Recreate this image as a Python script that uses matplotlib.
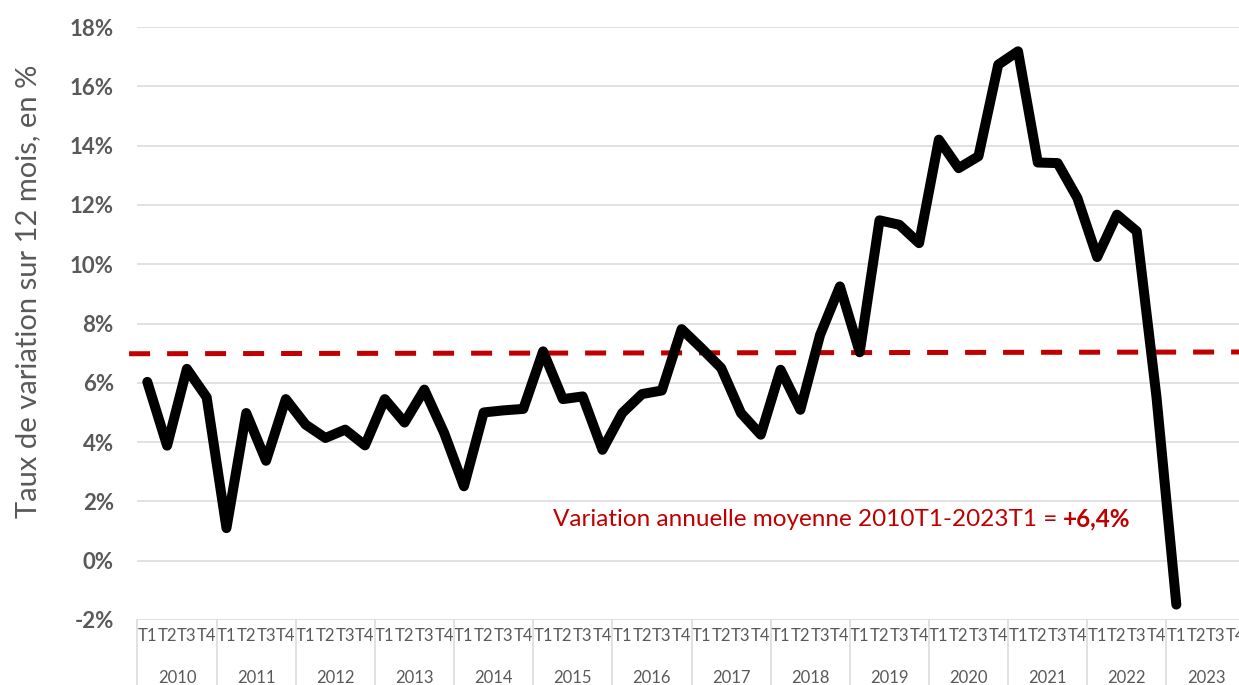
import matplotlib
matplotlib.use('Agg')
import matplotlib.pyplot as plt
import matplotlib.transforms as mtransforms

plt.rcParams['font.family'] = ['Lato', 'DejaVu Sans']

# Données (taux de variation sur 12 mois, en %)
annees = list(range(2010, 2024))
trimestres = ['T1', 'T2', 'T3', 'T4']
variation = [
    6.03, 3.88, 6.47, 5.51,      # 2010
    1.10, 4.98, 3.37, 5.45,      # 2011
    4.59, 4.14, 4.42, 3.89,      # 2012
    5.45, 4.66, 5.77, 4.31,      # 2013
    2.51, 5.00, 5.07, 5.12,      # 2014
    7.06, 5.45, 5.54, 3.74,      # 2015
    4.98, 5.62, 5.74, 7.81,      # 2016
    7.17, 6.50, 4.98, 4.25,      # 2017
    6.44, 5.09, 7.62, 9.25,      # 2018
    7.03, 11.48, 11.33, 10.71,   # 2019
    14.20, 13.24, 13.64, 16.73,  # 2020
    17.18, 13.43, 13.41, 12.23,  # 2021
    10.24, 11.67, 11.11, 5.50,   # 2022
    -1.48,                       # 2023
]
# ligne pointillée (moyenne / tendance)
tendance_x = [-0.92, 56]
tendance_y = [6.98, 7.04]
texte_moyenne = 'Variation annuelle moyenne 2010T1-2023T1 ='
valeur_moyenne = '+6,4%'

gris = '#595959'
grille = '#D9D9D9'
rouge = '#C00000'

fig = plt.figure(figsize=(12.39, 6.85), dpi=100)
ax = fig.add_axes([137.4 / 1239, 65 / 685, 1108.2 / 1239, 593 / 685])

ax.plot(range(len(variation)), variation, color='black', lw=7.2,
        solid_joinstyle='round', solid_capstyle='round', zorder=3)
ax.plot(tendance_x, tendance_y, color=rouge, lw=3.6, dashes=(4.2, 3.4),
        clip_on=False, zorder=2)

ax.set_xlim(-0.5, 4 * len(annees) - 0.5)
ax.set_ylim(-2, 18)
yt = list(range(-2, 19, 2))
ax.set_yticks(yt)
ax.set_yticklabels([f'{v}%' for v in yt], fontweight='bold')
ax.yaxis.grid(True, color=grille, lw=1.1)
ax.set_axisbelow(True)
for s in ax.spines.values():
    s.set_visible(False)
ax.tick_params(axis='y', length=0, pad=17, labelsize=16, labelcolor=gris)

ax.set_xticks(range(4 * len(annees)))
ax.set_xticklabels(trimestres * len(annees))
ax.tick_params(axis='x', length=0, pad=6, labelsize=12, labelcolor=gris)

# années et séparateurs
trans = mtransforms.blended_transform_factory(ax.transData, ax.transAxes)
for i, a in enumerate(annees):
    ax.text(4 * i + 1.5, -58 / 593, str(a), transform=trans, ha='center',
            va='center', fontsize=12, color=gris, clip_on=False)
for k in range(len(annees) + 1):
    ax.plot([4 * k - 0.5] * 2, [0, -0.12], transform=trans, color=grille,
            lw=1.1, clip_on=False)

t1 = ax.text(20.5, 1.38, texte_moyenne, color=rouge, fontsize=17.5,
             ha='left', va='center')
ax.annotate(valeur_moyenne, xy=(1, 0), xycoords=t1, xytext=(4, 0),
            textcoords='offset points', ha='left', va='bottom',
            color=rouge, fontsize=17.5, fontweight='bold')

fig.text(28 / 1239, 1 - 291 / 685, 'Taux de variation sur 12 mois, en %',
         rotation=90, ha='center', va='center', fontsize=21, color=gris)

fig.savefig('out.png', dpi=100)
